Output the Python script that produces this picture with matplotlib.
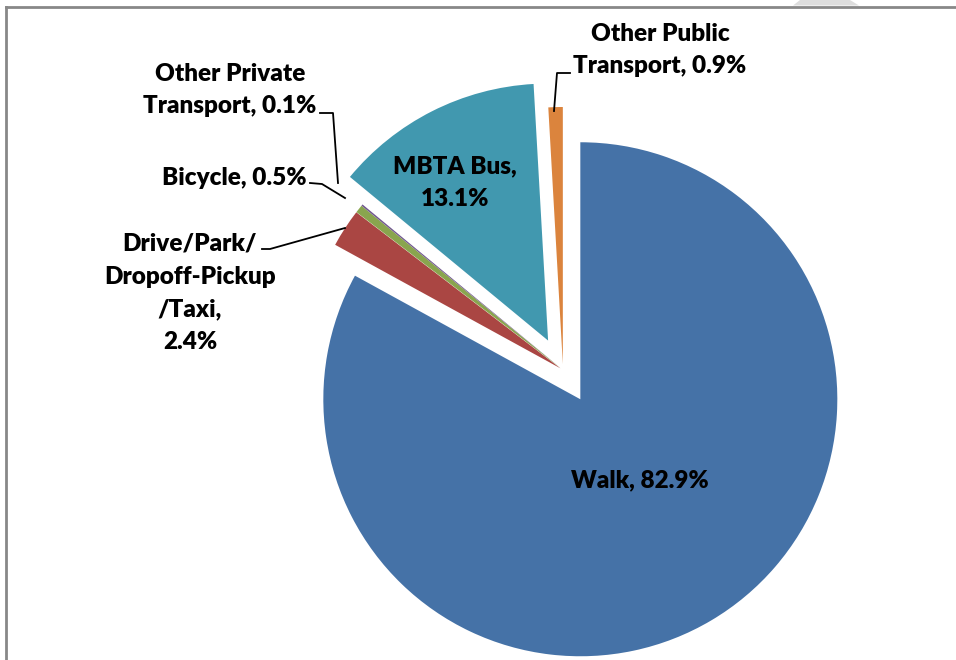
import matplotlib.pyplot as plt
from matplotlib.patches import Polygon

# share of trips by mode
modes = ['Walk', 'Drive/Park/\nDropoff-Pickup\n/Taxi', 'Bicycle',
         'Other Private\nTransport', 'MBTA Bus', 'Other Public\nTransport']
shares = [82.9, 2.4, 0.5, 0.1, 13.1, 0.9]
colors = ['#4572A7', '#AA4643', '#89A54E', '#71588F', '#4198AF', '#DB843D']
explode = [34, 3, 3, 3, 33, 6]  # in pixel units (radius is 257)

W, H = 956, 660
plt.rcParams['font.family'] = ['Lato', 'DejaVu Sans']

fig = plt.figure(figsize=(W / 100, H / 100), dpi=100)
ax = fig.add_axes([0, 0, 1, 1])

ax.pie(shares, colors=colors, explode=explode, startangle=90,
       counterclock=False, radius=257, center=(563, H - 370),
       wedgeprops=dict(linewidth=0))
ax.set_xlim(0, W)
ax.set_ylim(0, H)
ax.set_aspect('equal')
ax.axis('off')

# label centres in image pixels
label_pos = [(640, 480), (190, 293), (234, 178), (230, 90), (455, 183), (660, 50)]
for mode, share, (lx, ly) in zip(modes, shares, label_pos):
    txt = f'{mode}, {share}%'
    if mode.startswith('Drive') or mode == 'MBTA Bus':
        txt = f'{mode},\n{share}%'
    ax.text(lx, H - ly, txt, ha='center', va='center', fontsize=17.5,
            fontweight='heavy', linespacing=1.6, color='black')

# leader lines
leaders = [
    [(262, 249), (270, 249), (345, 228)],
    [(310, 183), (322, 184), (345, 198)],
    [(320, 113), (333, 113), (338, 183)],
    [(570, 73), (557, 73), (554, 111)],
]
for pts in leaders:
    xs = [p[0] for p in pts]
    ys = [H - p[1] for p in pts]
    ax.plot(xs, ys, color='black', lw=1.3)

# chart frame (top and left edges visible)
ax.plot([6.5, W], [H - 6.5, H - 6.5], color='#888888', lw=2)
ax.plot([6.5, 6.5], [0, H - 6.5], color='#888888', lw=2)
ax.add_patch(Polygon([(793, H - 5.5), (859, H - 5.5), (850, H), (800, H)],
                     closed=True, color='#DDDDDD', lw=0))

fig.savefig('out.png', dpi=100)
